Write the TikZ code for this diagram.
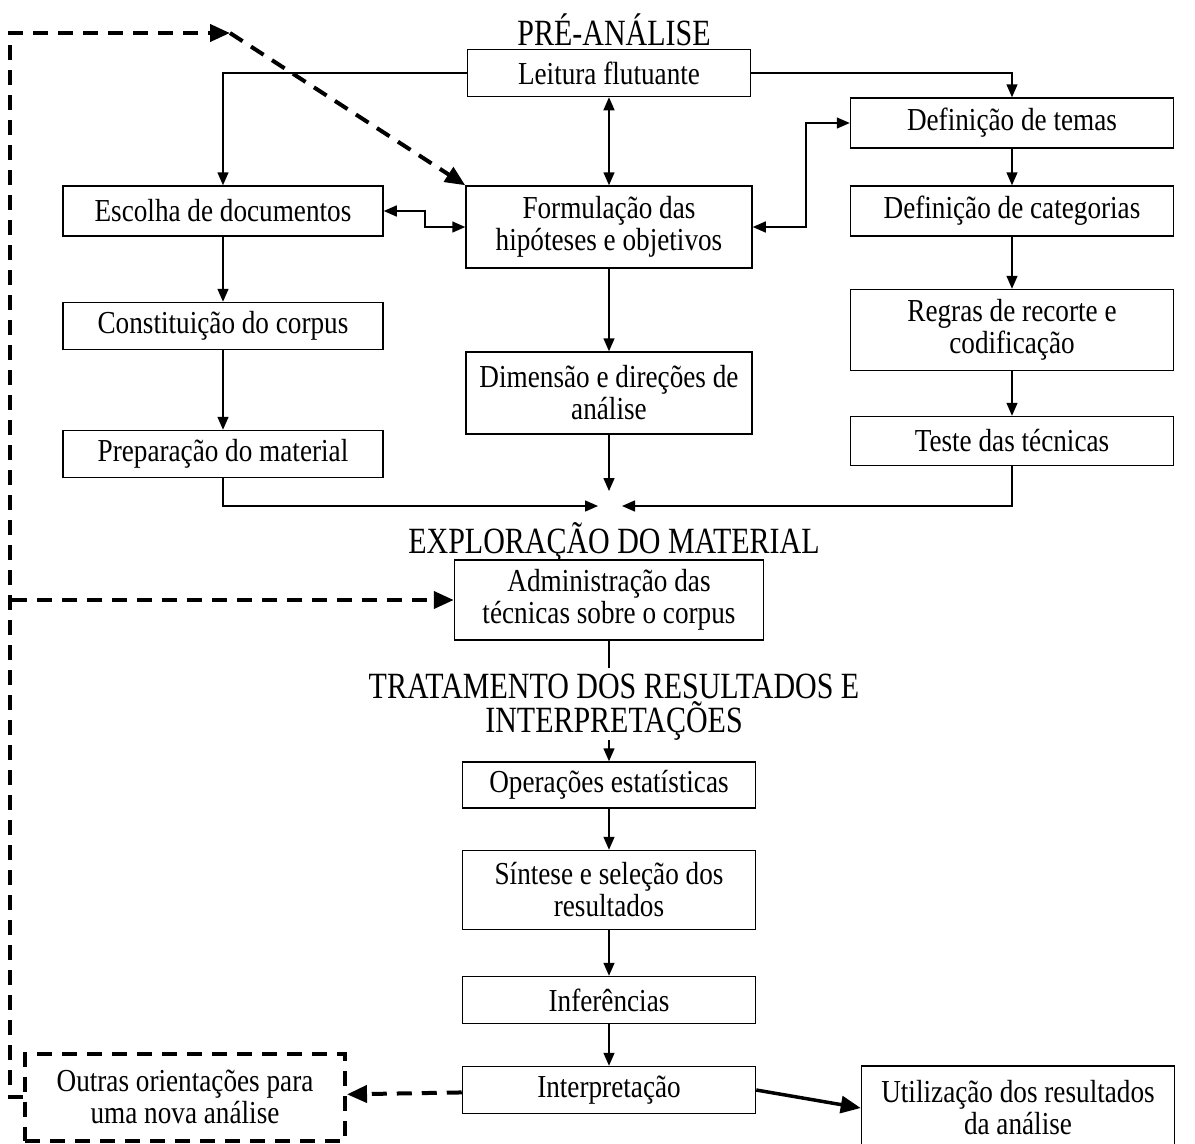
\documentclass[tikz,border=0pt]{standalone}
\usepackage{fontspec}
\setmainfont[FakeStretch=0.85]{Liberation Serif}
\newfontfamily\titulofont[FakeStretch=0.81]{Liberation Serif}
\usetikzlibrary{arrows.meta}

\begin{document}
\begin{tikzpicture} [
        x=1pt, y=-1pt,
        line width=1.5pt,
        >={Triangle[length=13pt,width=11pt]},
        bloco/.style n args={2}{
        draw,rectangle,
        minimum width=#1pt,
        minimum height=#2pt,
        inner sep=0pt,align=center,
        font=\fontsize{32}{32}\selectfont
        },
        titulo/.style={align=center,font=\titulofont\fontsize{37}{34}\selectfont},
        tracejado/.style={line width=4pt,dash pattern=on 15pt off 10pt},
        setagrossa/.style={-{Triangle[length=20pt,width=17pt]}}
    ]

    % 1 pt = 1 pixel da figura
    \useasboundingbox (0,0) rectangle (1195,1144);

    \node[titulo] (pre) at (614,30) {PRÉ-ANÁLISE};
    \node[bloco={283}{47}] (leitura) at (609,73) {Leitura flutuante};
    \node[bloco={323}{50}] (temas) at (1012,123) {Definição de temas};
    \node[bloco={320}{50}] (escolha) at (223,211) {Escolha de documentos};
    \node[bloco={286}{82}] (formul) at (609,227) {Formulação das\\hipóteses e objetivos};
    \node[bloco={323}{50}] (categ) at (1012,211) {Definição de categorias};
    \node[bloco={320}{47}] (constit) at (223,326) {Constituição do corpus};
    \node[bloco={323}{81}] (regras) at (1012,330) {Regras de recorte e\\codificação};
    \node[bloco={286}{82}] (dimensao) at (609,393) {Dimensão e direções de\\análise};
    \node[bloco={320}{47}] (prepar) at (223,454) {Preparação do material};
    \node[bloco={323}{49}] (teste) at (1012,441) {Teste das técnicas};

    \coordinate (juntaC) at (609,491);
    \coordinate (juntaE) at (598,506);
    \coordinate (juntaD) at (622,506);

    \node[titulo] (explor) at (614,542) {EXPLORAÇÃO DO MATERIAL};
    \node[bloco={309}{80}] (admin) at (609,600) {Administração das\\técnicas sobre o corpus};
    \coordinate (adminFim) at (609,668);
    \node[titulo] (tratam) at (614,707) {TRATAMENTO DOS RESULTADOS E\\INTERPRETAÇÕES};
    \coordinate (setaIni) at (609,740);
    \node[bloco={293}{46}] (operac) at (609,785) {Operações estatísticas};
    \node[bloco={293}{79}] (sintese) at (609,890) {Síntese e seleção dos\\resultados};
    \node[bloco={293}{47}] (infer) at (609,1000) {Inferências};
    \node[bloco={293}{47}] (interp) at (609,1090) {Interpretação};
    \node[bloco={313}{84}] (utiliz) at (1018,1108) {Utilização dos resultados\\da análise};
    \node[bloco={320}{87},tracejado] (outras) at (185,1097) {Outras orientações para\\uma nova análise};

    \coordinate (canto) at (230,33);
    \coordinate (ramo) at (12,600);

    \draw[->] (leitura.west) -| (escolha.north);
    \draw[->] (leitura.east) -| (temas.north);
    \draw[<->] (leitura) -- (formul);
    \draw[<->] (escolha.east) -- ++(41,0) |- (formul.west);
    \draw[<->] (formul.east) -- ++(53,0) |- (temas.west);
    \draw[->] (formul) -- (dimensao);
    \draw[->] (temas) -- (categ);
    \draw[->] (categ) -- (regras);
    \draw[->] (regras) -- (teste);
    \draw[->] (escolha) -- (constit);
    \draw[->] (constit) -- (prepar);
    \draw[->] (dimensao) -- (juntaC);
    \draw[->] (prepar) |- (juntaE);
    \draw[->] (teste) |- (juntaD);

    \draw (admin) -- (adminFim);
    \draw[->] (setaIni) -- (operac);
    \draw[->] (operac) -- (sintese);
    \draw[->] (sintese) -- (infer);
    \draw[->] (infer) -- (interp);
    \draw[line width=3.5pt,setagrossa] (interp.east) -- (utiliz.west);

    \draw[tracejado,setagrossa] (outras.west) -- ++(-13,0) |- (canto);
    \draw[tracejado,setagrossa] (canto) -- (formul.north west);
    \draw[tracejado,setagrossa] (ramo) -- (admin.west);
    \draw[tracejado,setagrossa] (interp) -- (outras);

\end{tikzpicture}
\end{document}
